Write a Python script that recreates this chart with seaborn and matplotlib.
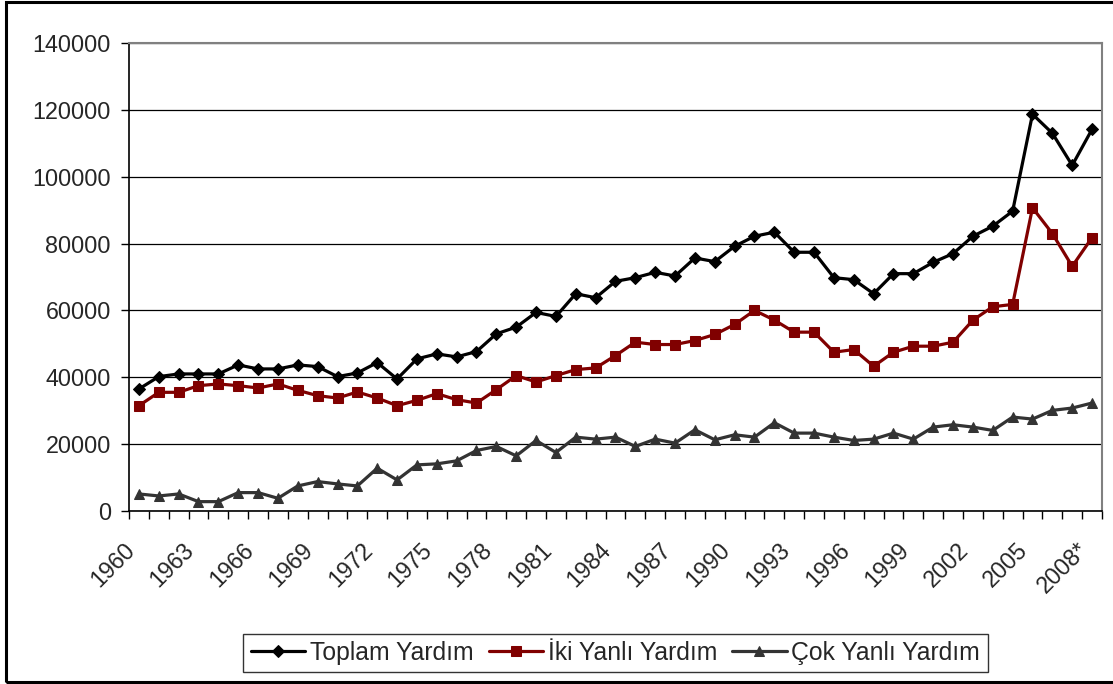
import numpy as np
import pandas as pd
import matplotlib
matplotlib.use("Agg")
import matplotlib.pyplot as plt
import matplotlib.transforms as mtransforms
import seaborn as sns
from matplotlib.patches import Rectangle

years = [str(y) for y in range(1960, 2008)] + ["2008*"]

toplam = [36500, 40200, 41000, 41000, 41000, 43700, 42500, 42500, 43700, 43200,
          40200, 41300, 44400, 39500, 45500, 47000, 46100, 47700, 53000, 55000,
          59400, 58200, 65000, 63800, 68700, 69800, 71400, 70300, 75700, 74600,
          79200, 82200, 83400, 77400, 77400, 69800, 69200, 65000, 71000, 71000,
          74400, 77000, 82200, 85200, 89700, 118700, 113000, 103400, 114200]

iki = [31500, 35500, 35500, 37500, 38000, 37500, 36800, 38000, 36100, 34500,
       33800, 35600, 33800, 31500, 33100, 35100, 33300, 32300, 36300, 40500,
       38600, 40500, 42300, 42800, 46500, 50500, 49800, 49800, 51000, 52800,
       55800, 60000, 57100, 53500, 53500, 47500, 48300, 43300, 47500, 49300,
       49300, 50500, 57100, 61100, 61800, 90700, 83000, 73200, 81800]

cok = [5100, 4500, 5100, 2800, 2800, 5500, 5500, 3800, 7500, 8800,
       8100, 7500, 12800, 9300, 13800, 14100, 15000, 18100, 19300, 16500,
       21100, 17500, 22100, 21500, 22100, 19300, 21500, 20300, 24300, 21300,
       22800, 22100, 26400, 23300, 23300, 22100, 21100, 21500, 23300, 21500,
       25100, 25800, 25100, 24100, 28100, 27500, 30100, 30800, 32300]

series_names = ["Toplam Yardım", "İki Yanlı Yardım", "Çok Yanlı Yardım"]
colors = ["#000000", "#800000", "#333333"]
markers = ["D", "s", "^"]
msizes = [9, 8.5, 10.5]

sns.set_theme(style="white")
plt.rcParams["font.family"] = ["Liberation Sans", "DejaVu Sans"]

fig = plt.figure(figsize=(11.13, 6.84), dpi=100)
ax = fig.add_axes([129 / 1113, 1 - 511 / 684, (1102 - 129) / 1113, (511 - 43) / 684])

idx = np.arange(len(years))
for name, vals, c, m, ms in zip(series_names, [toplam, iki, cok], colors, markers, msizes):
    df = pd.DataFrame({"x": idx, "y": vals})
    sns.lineplot(data=df, x="x", y="y", ax=ax, color=c, linewidth=2.3,
                 marker=m, markersize=ms, markeredgecolor=c, markerfacecolor=c,
                 label=name, sort=False)

ax.set_xlim(-0.5, len(years) - 0.5)
ax.set_ylim(0, 140000)
ax.set_yticks(np.arange(0, 140001, 20000))
ax.set_yticklabels([str(v) for v in range(0, 140001, 20000)], fontsize=16.8)

lab_pos = idx[::3]
ax.set_xticks(lab_pos)
ax.set_xticks(np.arange(-0.5, len(years), 1.0), minor=True)
ax.tick_params(axis="x", which="major", length=0, pad=14)
ax.tick_params(axis="x", which="minor", length=6, width=1, color="black", direction="out", bottom=True)
ax.tick_params(axis="y", which="major", length=6, width=1, color="black", direction="out", left=True, pad=7)
ax.set_xticklabels([years[i] for i in lab_pos], rotation=45, ha="right",
                   rotation_mode="anchor", fontsize=16.8)
offset = mtransforms.ScaledTranslation(-16 / 100, -8 / 100, fig.dpi_scale_trans)
for lab in ax.get_xticklabels():
    lab.set_transform(lab.get_transform() + offset)
ax.set_xlabel("")
ax.set_ylabel("")

ax.yaxis.grid(True, color="black", linewidth=0.9)
ax.xaxis.grid(False)
ax.set_axisbelow(True)

for side in ["top", "right"]:
    ax.spines[side].set_color("#808080")
    ax.spines[side].set_linewidth(1.5)
for side in ["left", "bottom"]:
    ax.spines[side].set_color("black")
    ax.spines[side].set_linewidth(1.2)

ax.get_legend().remove()
handles, labels = ax.get_legend_handles_labels()
for h in handles:
    h.set_markersize(6.5)
leg = fig.legend(handles, labels, loc="center", bbox_to_anchor=(615.5 / 1113, 1 - 653 / 684),
                 ncol=3, fontsize=17.8, frameon=True, fancybox=False, edgecolor="black",
                 handlelength=2.2, handletextpad=0.2, columnspacing=0.6,
                 borderpad=0.3, borderaxespad=0)
leg.get_frame().set_linewidth(1.0)

fig.patches.append(Rectangle((6 / 1113, 2 / 684), 1.2, 680 / 684, transform=fig.transFigure,
                             fill=False, edgecolor="black", linewidth=2.2, zorder=10))

fig.savefig("out.png", dpi=100)
